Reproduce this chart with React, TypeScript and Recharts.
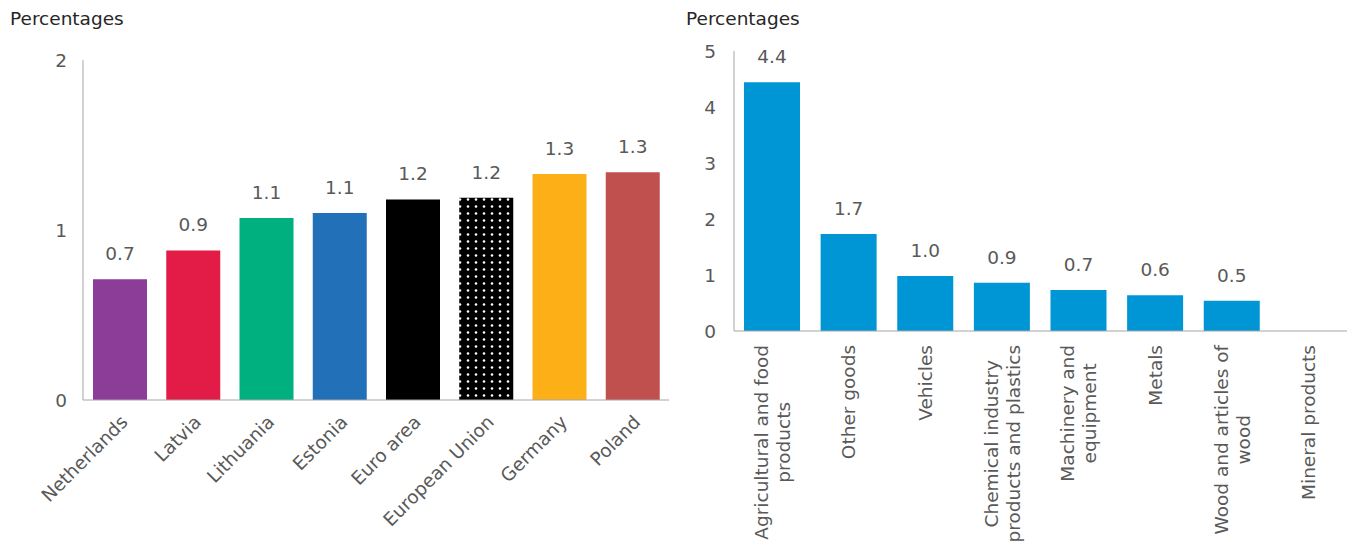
import { Bar, BarChart, Cell, LabelList, XAxis, YAxis } from "recharts";

const countries = ["Netherlands", "Latvia", "Lithuania", "Estonia", "Euro area", "European Union", "Germany", "Poland"];
const countryValues = [0.71, 0.88, 1.07, 1.1, 1.18, 1.19, 1.33, 1.34];
const countryColors = ["#8B3D97", "#E31C47", "#00B07F", "#2270B8", "#000000", "url(#dots)", "#FCAF17", "#C0504D"];
const countryTicks = [0, 1, 2];

const products = [
  "Agricultural and food products",
  "Other goods",
  "Vehicles",
  "Chemical industry products and plastics",
  "Machinery and equipment",
  "Metals",
  "Wood and articles of wood",
  "Mineral products",
];
const productLines = [
  ["Agricultural and food", "products"],
  ["Other goods"],
  ["Vehicles"],
  ["Chemical industry", "products and plastics"],
  ["Machinery and", "equipment"],
  ["Metals"],
  ["Wood and articles of", "wood"],
  ["Mineral products"],
];
const productValues = [4.44, 1.73, 0.98, 0.86, 0.73, 0.64, 0.54, 0];
const productTicks = [0, 1, 2, 3, 4, 5];

const countryData = countries.map((name, i) => ({ name, value: countryValues[i] }));
const productData = products.map((name, i) => ({ name, value: productValues[i] }));

const font = "'DejaVu Sans', Verdana, sans-serif";
const size = 18.5;
const grey = "#595959";
const axisColor = "#A6A6A6";

let measureCtx: CanvasRenderingContext2D | null = null;
function textWidth(s: string): number {
  if (!measureCtx) {
    measureCtx = document.createElement("canvas").getContext("2d");
  }
  if (!measureCtx) return s.length * 10;
  measureCtx.font = `${size}px ${font}`;
  return measureCtx.measureText(s).width;
}

function ProductTick({ x, y, payload }: any) {
  const lines: string[] = productLines[payload.index] ?? [String(payload.value)];
  const maxW = Math.max(...lines.map(textWidth));
  const lh = 22;
  return (
    <g transform={`translate(${x},${y}) rotate(-90)`}>
      {lines.map((line, i) => (
        <text
          key={i}
          x={-maxW / 2}
          y={(i - (lines.length - 1) / 2) * lh}
          dy="0.35em"
          textAnchor="middle"
          fill={grey}
          fontSize={size}
          fontFamily={font}
        >
          {line}
        </text>
      ))}
    </g>
  );
}

const fmt = (v: any) => Number(v).toFixed(1);

export default function App() {
  const titleStyle = {
    position: "absolute" as const,
    top: 8,
    fontSize: size,
    fontFamily: font,
    color: "#262626",
  };
  return (
    <div style={{ position: "absolute", left: 0, top: 0, width: 1352, height: 542, background: "#fff", fontFamily: font }}>
      <div style={{ ...titleStyle, left: 10 }}>Percentages</div>
      <div style={{ ...titleStyle, left: 686 }}>Percentages</div>
      <div style={{ position: "absolute", left: 0, top: 0 }}>
        <BarChart width={680} height={542} data={countryData} margin={{ top: 60, right: 11, left: 0, bottom: 12 }}>
          <defs>
            <pattern id="dots" patternUnits="userSpaceOnUse" width={8} height={7}>
              <rect width={8} height={7} fill="#000" />
              <circle cx={4} cy={3.5} r={1.3} fill="#fff" />
            </pattern>
          </defs>
          <XAxis
            dataKey="name"
            interval={0}
            height={130}
            angle={-45}
            textAnchor="end"
            tickLine={false}
            tickMargin={8}
            stroke={axisColor}
            tick={{ fill: grey, fontSize: size, fontFamily: font }}
          />
          <YAxis
            domain={[0, 2]}
            ticks={countryTicks}
            width={83}
            tickLine={false}
            tickMargin={10}
            stroke={axisColor}
            tick={{ fill: grey, fontSize: size, fontFamily: font }}
          />
          <Bar dataKey="value" barSize={54} isAnimationActive={false}>
            {countryData.map((d, i) => (
              <Cell key={d.name} fill={countryColors[i]} />
            ))}
            <LabelList dataKey="value" position="top" offset={19} formatter={fmt} fill={grey} fontSize={size} fontFamily={font} />
          </Bar>
        </BarChart>
      </div>
      <div style={{ position: "absolute", left: 680, top: 0 }}>
        <BarChart width={672} height={542} data={productData} margin={{ top: 51, right: 5, left: 0, bottom: 11 }}>
          <XAxis
            dataKey="name"
            interval={0}
            height={200}
            tickLine={false}
            tickMargin={8}
            stroke={axisColor}
            tick={<ProductTick />}
          />
          <YAxis
            domain={[0, 5]}
            ticks={productTicks}
            width={54}
            tickLine={false}
            tickMargin={12}
            stroke={axisColor}
            tick={{ fill: grey, fontSize: size, fontFamily: font }}
          />
          <Bar dataKey="value" barSize={56} fill="#0096D6" isAnimationActive={false}>
            <LabelList dataKey="value" position="top" offset={19} formatter={fmt} fill={grey} fontSize={size} fontFamily={font} />
          </Bar>
        </BarChart>
      </div>
    </div>
  );
}
